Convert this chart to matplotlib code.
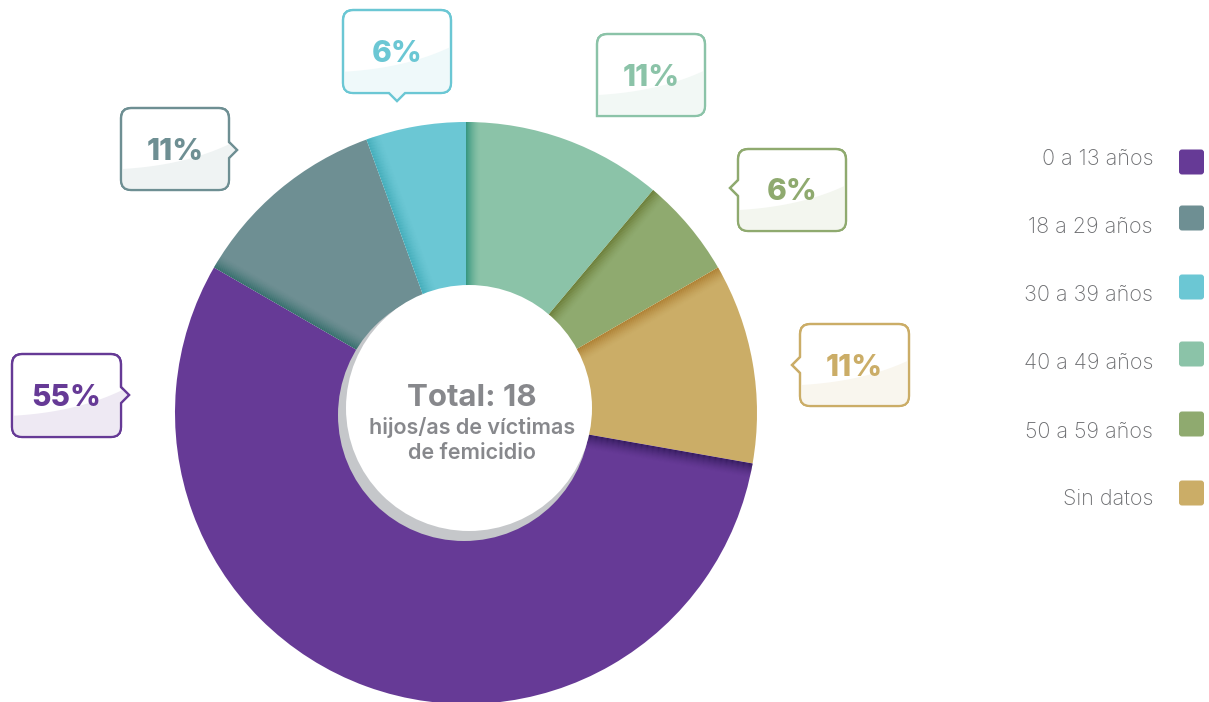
import numpy as np
import matplotlib
matplotlib.use('Agg')
import matplotlib.pyplot as plt
from matplotlib.path import Path
from matplotlib.patches import PathPatch, Circle, FancyBboxPatch, Polygon
from matplotlib.colors import to_rgb

plt.rcParams['font.family'] = ['Inter', 'DejaVu Sans']

# data (legend order)
groups = ["0 a 13 años", "18 a 29 años", "30 a 39 años", "40 a 49 años", "50 a 59 años", "Sin datos"]
counts = [10, 2, 1, 2, 1, 2]
pct_labels = ["55%", "11%", "6%", "11%", "6%", "11%"]
colors = ["#663a96", "#6e8f93", "#6bc7d4", "#8bc3a8", "#8faa6f", "#cbad67"]
dark = ["#2e1857", "#2c6a66", "#3ea9b6", "#2f937c", "#66762f", "#a9782a"]
total = 18

# pie goes clockwise from 12 o'clock starting with 40 a 49
pie_order = [3, 4, 5, 0, 1, 2]

W, H = 1209, 702
fig = plt.figure(figsize=(W / 100, H / 100), dpi=100)
ax = fig.add_axes([0, 0, 1, 1])

cx, cy, R = 466, 413, 291

vals = [counts[i] for i in pie_order]
cols = [colors[i] for i in pie_order]
wedges, _ = ax.pie(vals, colors=cols, startangle=-90, counterclock=True,
                   center=(cx, cy), radius=R, wedgeprops=dict(linewidth=0))

# dark shading along the leading edge of each slice
ang = 0.0
for k, i in enumerate(pie_order):
    phi = np.radians(ang)
    d = np.array([np.sin(phi), -np.cos(phi)])
    n = np.array([np.cos(phi), np.sin(phi)])
    c = np.array([cx, cy])
    w, N = 14.0, 14
    for j in range(N):
        a, b = j * w / N, (j + 1) * w / N
        al = 0.9 * (1 - j / N) ** 1.6
        pts = [c + n * a, c + n * b, c + n * b + d * (R + 10), c + n * a + d * (R + 10)]
        poly = Polygon(pts, closed=True, facecolor=dark[i], edgecolor='none', alpha=al, zorder=2)
        ax.add_patch(poly)
        poly.set_clip_path(wedges[k])
    ang += 360.0 * counts[i] / total

# centre circle with shadow
ax.add_patch(Circle((464, 415), 126, facecolor="#c5c7ca", edgecolor='none', zorder=3))
ax.add_patch(Circle((469, 408), 123, facecolor="white", edgecolor='none', zorder=4))
ax.text(472, 398, f"Total: {total}", ha='center', va='center', fontsize=22.5,
        fontweight='bold', color="#87888c", zorder=5)
ax.text(472, 428, "hijos/as de víctimas", ha='center', va='center', fontsize=15.5,
        fontweight='semibold', color="#87888c", zorder=5)
ax.text(472, 453, "de femicidio", ha='center', va='center', fontsize=15.5,
        fontweight='semibold', color="#87888c", zorder=5)


def callout_path(x0, y0, x1, y1, side=None, pos=0, r=10, ph=8, pl=8):
    v, cd = [], []

    def mv(p):
        v.append(p); cd.append(Path.MOVETO)

    def ln(p):
        v.append(p); cd.append(Path.LINETO)

    def cv(ctrl, p):
        v.extend([ctrl, p]); cd.extend([Path.CURVE3, Path.CURVE3])

    mv((x0 + r, y0))
    ln((x1 - r, y0))
    cv((x1, y0), (x1, y0 + r))
    if side == 'right':
        ln((x1, pos - ph)); ln((x1 + pl, pos)); ln((x1, pos + ph))
    ln((x1, y1 - r))
    cv((x1, y1), (x1 - r, y1))
    if side == 'bottom':
        ln((pos + ph, y1)); ln((pos, y1 + pl)); ln((pos - ph, y1))
    if side == 'corner':
        ln((x0, y1))
    else:
        ln((x0 + r, y1))
        cv((x0, y1), (x0, y1 - r))
    if side == 'left':
        ln((x0, pos + ph)); ln((x0 - pl, pos)); ln((x0, pos - ph))
    ln((x0, y0 + r))
    cv((x0, y0), (x0 + r, y0))
    v.append((x0 + r, y0)); cd.append(Path.CLOSEPOLY)
    return Path(v, cd)


# callout layout: box (x0, y0, x1, y1), pointer side, pointer position
boxes = [
    (12, 354, 121, 437, 'right', 395),
    (121, 108, 229, 190, 'right', 150),
    (343, 10, 451, 93, 'bottom', 397),
    (597, 34, 705, 116, 'corner', 0),
    (738, 149, 846, 231, 'left', 188),
    (800, 324, 909, 406, 'left', 365),
]

for i, (x0, y0, x1, y1, side, pos) in enumerate(boxes):
    p = callout_path(x0, y0, x1, y1, side, pos)
    patch = PathPatch(p, facecolor='white', edgecolor=colors[i], linewidth=1.6, zorder=6)
    ax.add_patch(patch)
    base = np.array(to_rgb(colors[i]))
    tint = 1 - 0.11 * (1 - base)
    h = y1 - y0
    t = np.linspace(0, 1, 40)
    p0 = np.array([x0 - 10, y0 + 0.75 * h])
    p1 = np.array([x0 + 0.62 * (x1 - x0), y0 + 0.72 * h])
    p2 = np.array([x1 + 10, y0 + 0.38 * h])
    curve = ((1 - t) ** 2)[:, None] * p0 + (2 * (1 - t) * t)[:, None] * p1 + (t ** 2)[:, None] * p2
    pts = np.vstack([curve, [[x1 + 10, y1 + 12], [x0 - 10, y1 + 12]]])
    tp = Polygon(pts, closed=True, facecolor=tint, edgecolor='none', zorder=6.5)
    ax.add_patch(tp)
    tp.set_clip_path(patch)
    ax.add_patch(PathPatch(p, facecolor='none', edgecolor=colors[i], linewidth=1.6, zorder=7))
    ax.text((x0 + x1) / 2, (y0 + y1) / 2 + 2.5, pct_labels[i], ha='center', va='center',
            fontsize=21.5, fontweight='heavy', color=colors[i], zorder=8)

# legend
text_y = [159, 227, 295, 363, 432, 499]
box_y = [162, 218, 287, 354, 424, 493]
for i, g in enumerate(groups):
    ax.text(1153, text_y[i], g, ha='right', va='center', fontsize=15.5,
            fontweight='light', color="#6d6e71")
    ax.add_patch(FancyBboxPatch((1179, box_y[i] - 12.5), 25, 25,
                                boxstyle="round,pad=0,rounding_size=3",
                                facecolor=colors[i], edgecolor='none'))

ax.set_xlim(0, W)
ax.set_ylim(H, 0)
ax.set_aspect('auto')
ax.axis('off')

fig.savefig("out.png", dpi=100)
